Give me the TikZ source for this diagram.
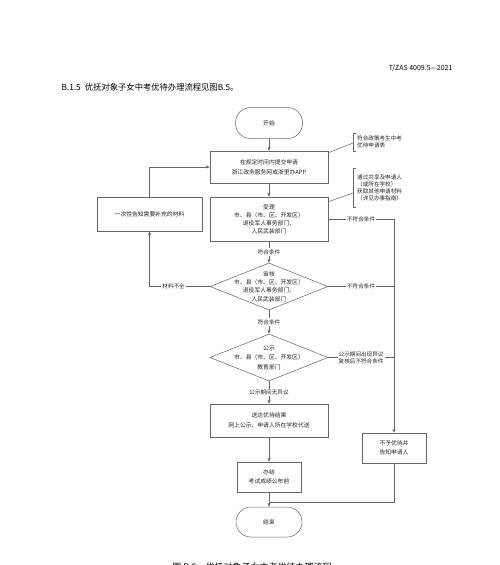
\documentclass[tikz,border=0pt]{standalone}
\usepackage{fontspec}
\setmainfont{Noto Sans CJK SC}
\usetikzlibrary{arrows.meta,shapes.geometric,calc}
\begin{document}
\begin{tikzpicture}[x=1pt,y=-1pt,
  line/.style={draw=black!60, line width=0.5pt},
  arr/.style={line, -{Stealth[length=4pt,width=3.2pt]}},
  box/.style={line, rectangle, inner sep=0pt, align=center, text=black!85,
    font=\fontsize{5.8}{8}\selectfont},
  term/.style={box, rounded corners=15pt},
  dia/.style={line, diamond, inner sep=0pt},
  dtext/.style={align=center, inner sep=0pt, text=black!85, font=\fontsize{5.8}{8.3}\selectfont},
  lab/.style={fill=white, inner sep=1pt, text=black!85, font=\fontsize{5.6}{7}\selectfont},
  anno/.style={inner xsep=4pt, inner ysep=0pt, align=left, text=black!85,
    font=\fontsize{5.6}{7}\selectfont},
]
\fill[white] (0,0) rectangle (500,565);
\useasboundingbox (0,0) rectangle (500,565);

% header
\node[anchor=east, font=\fontsize{7}{8}\selectfont] (hdr) at (456,68) {T/ZAS 4009.5—2021};
\node[anchor=west, font=\fontsize{8.3}{10}\selectfont] (sec) at (58,87) {B.1.5\enspace 优抚对象子女中考优待办理流程见图B.5。};

% nodes
\node[term, minimum width=67pt, minimum height=31pt] (start) at (269,123) {开始};
\node[box, minimum width=118pt, minimum height=32pt, font=\fontsize{5.8}{10}\selectfont] (apply) at (269,167)
  {在规定时间内提交申请\\浙江政务服务网或浙里办APP};
\node[box, minimum width=118pt, minimum height=44pt] (accept) at (269,219)
  {受理\\市、县（市、区、开发区）\\退役军人事务部门、\\人民武装部门};
\node[dia, minimum width=118pt, minimum height=47pt] (audit) at (269,286.5) {};
\node[dtext] (audittxt) at (audit) {审核\\市、县（市、区、开发区）\\退役军人事务部门、\\人民武装部门};
\node[dia, minimum width=118pt, minimum height=47pt] (pub) at (269,357.5) {};
\node[dtext, font=\fontsize{5.8}{9.5}\selectfont] (pubtxt) at (pub) {公示\\市、县（市、区、开发区）\\教育部门};
\node[box, minimum width=118pt, minimum height=33pt, font=\fontsize{5.8}{9.5}\selectfont] (deliver) at (269,420.5)
  {送达优待结果\\网上公示、申请人所在学校代送};
\node[box, minimum width=64pt, minimum height=30pt, font=\fontsize{5.8}{9}\selectfont] (done) at (269,477)
  {办结\\考试成绩公布前};
\node[term, minimum width=66pt, minimum height=30pt] (finish) at (269,522) {结束};
\node[box, minimum width=105pt, minimum height=34pt] (inform) at (149.5,214) {一次性告知需要补充的材料};
\node[box, minimum width=64pt, minimum height=30pt, font=\fontsize{5.8}{8.5}\selectfont] (reject) at (394,448)
  {不予优待并\\告知申请人};

% annotations
\node[anno, anchor=west, minimum height=18pt] (n1) at (353,142) {符合政策考生中考\\优待申请表};
\node[anno, anchor=west, minimum height=39pt] (n2) at (353,187.5)
  {通过共享及申请人\\（或所在学校）\\获取其他申请材料\\（详见办事指南）};
\draw[line] ($(n1.north west)+(3,0)$) -- (n1.north west) -- (n1.south west) -- ($(n1.south west)+(3,0)$);
\draw[line] ($(n2.north west)+(3,0)$) -- (n2.north west) -- (n2.south west) -- ($(n2.south west)+(3,0)$);
\draw[line] ($(apply.north east)+(0,2)$) -- ($(n1.west)+(0,1)$);
\draw[line] ($(accept.north east)+(0,5)$) -- ($(n2.west)+(0,5.5)$);

% coordinates
\coordinate (merge) at (269,502);

% connectors
\draw[arr] (start) -- (apply);
\draw[arr] (apply) -- (accept);
\draw[arr] (accept) -- node[lab]{符合条件} (audit);
\draw[arr] (audit) -- node[lab]{符合条件} (pub);
\draw[arr] (pub) -- node[lab]{公示期间无异议} (deliver);
\draw[arr] (deliver) -- (done);
\draw[arr] (done) -- (finish);
\draw[arr] (audit.west) -- node[lab, pos=0.6]{材料不全} (audit.west -| inform.south) -- (inform.south);
\draw[arr] (inform.north) |- (apply.west);
\draw[arr] (accept.east) -- node[lab]{不符合条件} (accept.east -| reject.north) -- (reject.north);
\draw[line] (audit.east) -- node[lab]{不符合条件} (audit.east -| reject.north);
\draw[line] (pub.east) -- node[lab, align=left]{公示期间出现异议\\复核后不符合条件} (pub.east -| reject.north);
\draw[line] (reject.south) |- (merge);

% caption (partly cut off at the bottom)
\node[anchor=north, font=\fontsize{9}{11}\selectfont] (cap) at (252,559.5) {图 B.5\quad 优抚对象子女中考优待办理流程};
\end{tikzpicture}
\end{document}
